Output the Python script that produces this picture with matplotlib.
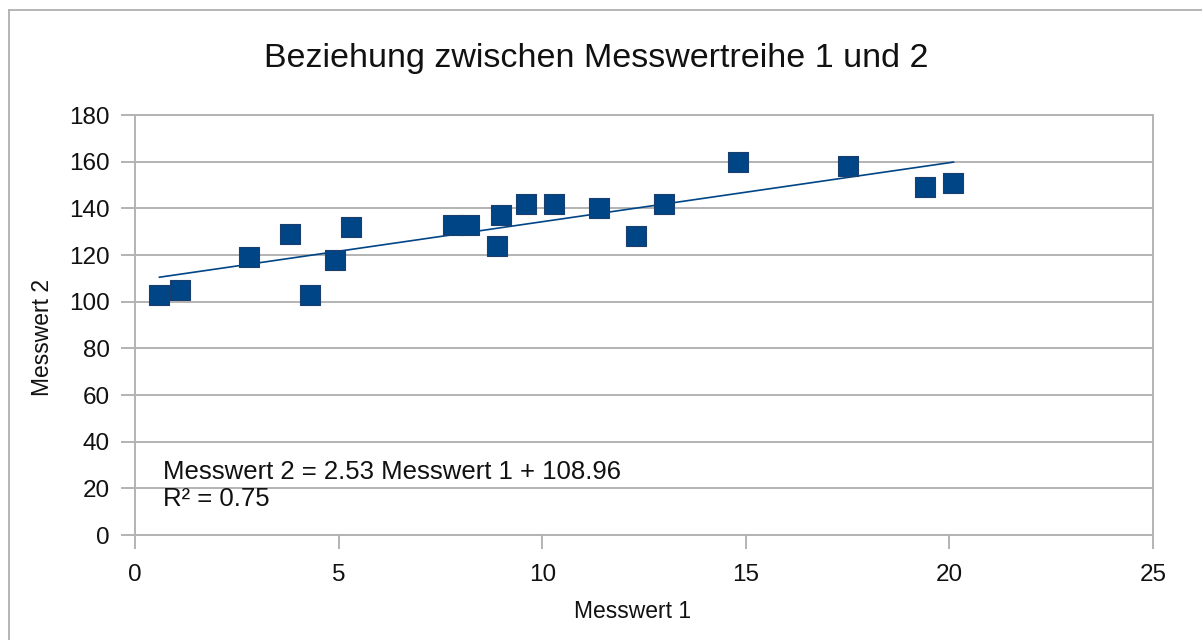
import matplotlib
matplotlib.use("Agg")
import matplotlib.pyplot as plt
from matplotlib.lines import Line2D
import numpy as np

plt.rcParams['font.family'] = ['Liberation Sans', 'DejaVu Sans']

# Measurement series
messwert_1 = [0.6, 1.1, 2.8, 3.8, 4.3, 4.9, 5.3, 7.8, 8.2, 8.9, 9.0,
              9.6, 10.3, 11.4, 12.3, 13.0, 14.8, 17.5, 19.4, 20.1]
messwert_2 = [103, 105, 119, 129, 103, 118, 132, 133, 133, 124, 137,
              142, 142, 140, 128, 142, 160, 158, 149, 151]

# Linear trend (as reported in the equation label)
slope = 2.53
intercept = 108.96
r_squared = 0.75

x_ticks = [0, 5, 10, 15, 20, 25]
y_ticks = [0, 20, 40, 60, 80, 100, 120, 140, 160, 180]

series_color = '#004586'
grid_color = '#b3b3b3'
text_color = '#111111'

W, H = 1202, 640
fig = plt.figure(figsize=(W / 100, H / 100), dpi=100)
fig.patch.set_facecolor('white')

# Chart frame (top and left edges)
fig.add_artist(Line2D([8.5 / W, 8.5 / W], [0, 1 - 10 / H], color='#b0b0b0', lw=1.3,
                      transform=fig.transFigure))
fig.add_artist(Line2D([8.5 / W, 1.0], [1 - 10 / H, 1 - 10 / H], color='#b0b0b0', lw=1.3,
                      transform=fig.transFigure))

ax = fig.add_axes([135 / W, 1 - 535 / H, (1153 - 135) / W, (535 - 115) / H])
ax.set_xlim(0, 25)
ax.set_ylim(0, 180)
ax.set_xticks(x_ticks)
ax.set_yticks(y_ticks)
ax.set_xticklabels([str(v) for v in x_ticks])
ax.set_yticklabels([str(v) for v in y_ticks])

ax.grid(axis='y', color=grid_color, lw=1.4, zorder=0)
ax.set_axisbelow(True)
for s in ax.spines.values():
    s.set_color(grid_color)
    s.set_linewidth(1.4)
ax.tick_params(axis='both', colors=grid_color, length=10, width=1.4,
               labelcolor=text_color, labelsize=17.5)
ax.tick_params(axis='y', pad=8)
ax.tick_params(axis='x', pad=11)

# Trend line over the data range
x_fit = np.array([min(messwert_1), max(messwert_1)])
ax.plot(x_fit, slope * x_fit + intercept, color=series_color, lw=1.2, zorder=2)

# Data points
ax.scatter(messwert_1, messwert_2, marker='s', s=14.5 ** 2, color=series_color,
           edgecolors='#1a3f6e', linewidths=0.8, zorder=3)

ax.text((163 - 135) / 1018, (535 - 479) / 420,
        f'Messwert 2 = {slope:.2f} Messwert 1 + {intercept:.2f}',
        transform=ax.transAxes, fontsize=18.5, va='baseline', ha='left', color=text_color)
ax.text((163 - 135) / 1018, (535 - 506) / 420, f'R² = {r_squared:.2f}',
        transform=ax.transAxes, fontsize=18.5, va='baseline', ha='left', color=text_color)

ax.set_xlabel('Messwert 1', fontsize=16.5, color=text_color)
ax.xaxis.set_label_coords((633 - 135) / 1018, (535 - 612) / 420)
ax.xaxis.label.set_va('center')
ax.set_ylabel('Messwert 2', fontsize=16.5, color=text_color)
ax.yaxis.set_label_coords((42.5 - 135) / 1018, (535 - 338) / 420)
ax.yaxis.label.set_va('center')

fig.text(596.5 / W, 1 - 58 / H, 'Beziehung zwischen Messwertreihe 1 und 2',
         fontsize=24.5, ha='center', va='center', color=text_color)

fig.savefig('out.png', dpi=100)
